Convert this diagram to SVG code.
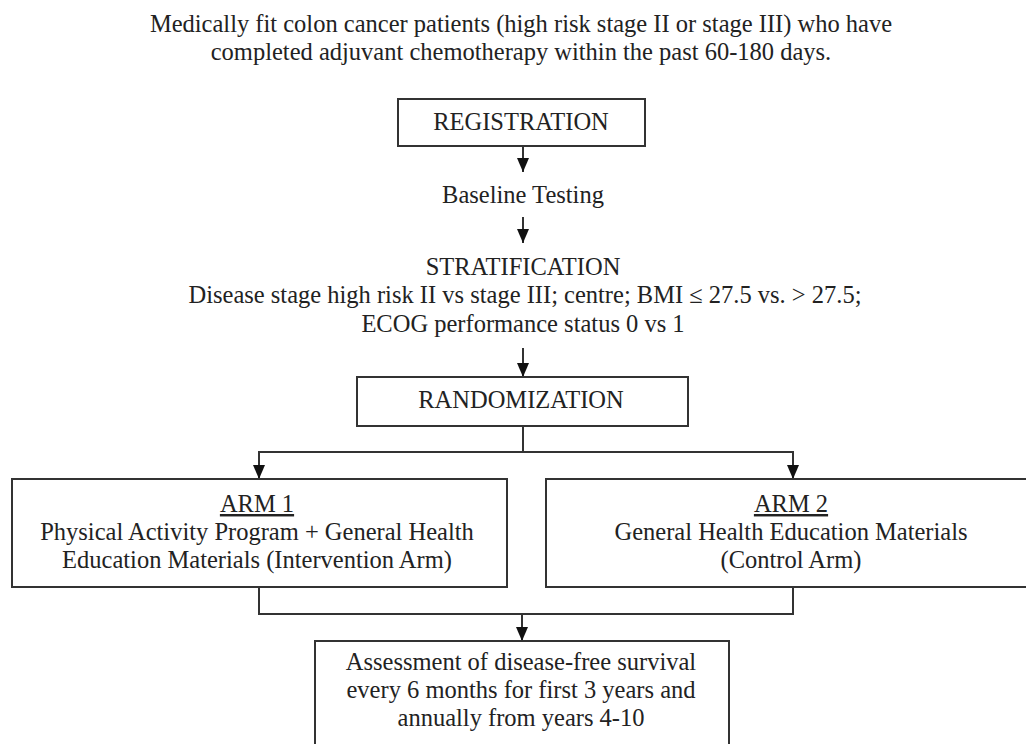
<svg xmlns="http://www.w3.org/2000/svg" width="1026" height="744" viewBox="0 0 1026 744">
<defs>
<style>
text{font-family:"Liberation Serif","Times New Roman",serif;font-size:24.5px;fill:#222;text-anchor:middle}
.box{fill:#fff;stroke:#333;stroke-width:2}
.ln{fill:none;stroke:#333;stroke-width:2}
</style>
<marker id="ah" viewBox="0 0 14 12" refX="14" refY="6" markerWidth="14" markerHeight="12" markerUnits="userSpaceOnUse" orient="auto">
<path d="M0,0 L14,6 L0,12 Z" fill="#111"/>
</marker>
</defs>
<rect width="1026" height="744" fill="#fff"/>
<g id="intro">
<text x="521" y="32">Medically fit colon cancer patients (high risk stage II or stage III) who have</text>
<text x="521" y="60">completed adjuvant chemotherapy within the past 60-180 days.</text>
</g>
<g id="connectors">
<line class="ln" x1="523" y1="146" x2="523" y2="172" marker-end="url(#ah)"/>
<line class="ln" x1="523" y1="217" x2="523" y2="243" marker-end="url(#ah)"/>
<line class="ln" x1="523" y1="348" x2="523" y2="377" marker-end="url(#ah)"/>
<polyline class="ln" points="523,426 523,452"/>
<polyline class="ln" points="259,452 793,452"/>
<line class="ln" x1="259" y1="451" x2="259" y2="479" marker-end="url(#ah)"/>
<line class="ln" x1="793" y1="451" x2="793" y2="479" marker-end="url(#ah)"/>
<polyline class="ln" points="259,587 259,614 793,614 793,587"/>
<line class="ln" x1="522" y1="614" x2="522" y2="641" marker-end="url(#ah)"/>
</g>
<g id="registration">
<rect class="box" x="398" y="99" width="247" height="47"/>
<text x="521" y="130">REGISTRATION</text>
</g>
<g id="baseline">
<text x="523" y="203">Baseline Testing</text>
</g>
<g id="stratification">
<text x="523" y="275">STRATIFICATION</text>
<text x="525" y="303">Disease stage high risk II vs stage III; centre; BMI ≤ 27.5 vs. &gt; 27.5;</text>
<text x="523" y="332">ECOG performance status 0 vs 1</text>
</g>
<g id="randomization">
<rect class="box" x="357" y="377" width="331" height="49"/>
<text x="521" y="408">RANDOMIZATION</text>
</g>
<g id="arm1">
<rect class="box" x="12" y="479" width="495" height="108"/>
<text x="257" y="512" text-decoration="underline">ARM 1</text>
<text x="257" y="540">Physical Activity Program + General Health</text>
<text x="257" y="568">Education Materials (Intervention Arm)</text>
</g>
<g id="arm2">
<rect class="box" x="546" y="479" width="492" height="108"/>
<text x="791" y="512" text-decoration="underline">ARM 2</text>
<text x="791" y="540">General Health Education Materials</text>
<text x="791" y="568">(Control Arm)</text>
</g>
<g id="assessment">
<rect class="box" x="315" y="641" width="414" height="120"/>
<text x="521" y="670">Assessment of disease-free survival</text>
<text x="521" y="698">every 6 months for first 3 years and</text>
<text x="521" y="726">annually from years 4-10</text>
</g>
</svg>
